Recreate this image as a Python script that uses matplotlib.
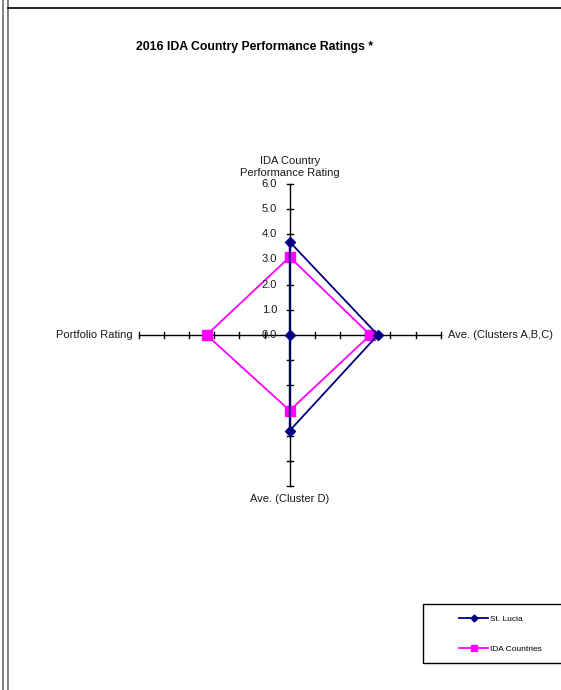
import matplotlib
matplotlib.use("Agg")
import matplotlib.pyplot as plt
from matplotlib.lines import Line2D
from matplotlib.patches import Rectangle
import numpy as np

plt.rcParams['font.family'] = ['Liberation Sans', 'DejaVu Sans']

title = "2016 IDA Country Performance Ratings *"
categories = ["IDA Country\nPerformance Rating", "Ave. (Clusters A,B,C)",
              "Ave. (Cluster D)", "Portfolio Rating"]
series_names = ["St. Lucia", "IDA Countries"]
st_lucia = [3.7, 3.5, 3.8, 0.0]
ida_countries = [3.1, 3.2, 3.0, 3.3]
tick_values = [0, 1, 2, 3, 4, 5, 6]
tick_labels = ["0.0", "1.0", "2.0", "3.0", "4.0", "5.0", "6.0"]

W, H = 561, 690
fig = plt.figure(figsize=(W / 100, H / 100), dpi=100)

# layout: center of radar and pixel scale per unit
cx, cy, S = 289.7, 335.0, 25.17
ax = fig.add_axes([0, 0, 1, 1])
ax.set_xlim(-cx / S, (W - cx) / S)
ax.set_ylim(-(H - cy) / S, cy / S)
ax.axis('off')

dirs = np.array([[0, 1], [1, 0], [0, -1], [-1, 0]], dtype=float)
rmax = tick_values[-1]
tl = 3.2 / S
txtc = '#1a1a1a'

# axes with ticks
for d in dirs:
    ax.plot([0, d[0] * rmax], [0, d[1] * rmax], color='black', lw=1.0, zorder=1)
    perp = np.array([-d[1], d[0]])
    for t in tick_values[1:]:
        p = d * t
        ax.plot([p[0] - perp[0] * tl, p[0] + perp[0] * tl],
                [p[1] - perp[1] * tl, p[1] + perp[1] * tl],
                color='black', lw=1.0, zorder=1)

# tick labels on the first (top) axis
for t, lab in zip(tick_values, tick_labels):
    ax.text(-0.5, t, lab, ha='right', va='center', fontsize=8, color=txtc, zorder=4)

# category labels
ax.text(0, rmax + 0.25, categories[0], ha='center', va='bottom', fontsize=8,
        linespacing=1.2, color=txtc)
ax.text(rmax + 0.3, 0, categories[1], ha='left', va='center', fontsize=8, color=txtc)
ax.text(0, -rmax - 0.3, categories[2], ha='center', va='top', fontsize=8, color=txtc)
ax.text(-rmax - 0.25, 0, categories[3], ha='right', va='center', fontsize=8, color=txtc)


def closed_xy(vals):
    v = np.array(vals + vals[:1])
    d = np.vstack([dirs, dirs[:1]])
    return d[:, 0] * v, d[:, 1] * v


x1, y1 = closed_xy(st_lucia)
x2, y2 = closed_xy(ida_countries)
l1, = ax.plot(x1, y1, color='#000080', lw=1.3, marker='D', ms=5,
              markevery=list(range(4)), zorder=3, label=series_names[0])
l2, = ax.plot(x2, y2, color='#FF00FF', lw=1.3, marker='s', ms=6.5,
              markevery=list(range(4)), zorder=2, label=series_names[1])

# title
fig.text(254.5 / W, 1 - 47 / H, title, ha='center', va='center',
         fontsize=8.8, fontweight='bold')

# frame lines
for px, c in [(2.5, '#808080'), (7.5, '#808080')]:
    fig.add_artist(Line2D([px / W, px / W], [0, 1], color=c, lw=1.4,
                          transform=fig.transFigure))
fig.add_artist(Line2D([8 / W, 1], [1 - 7.5 / H, 1 - 7.5 / H], color='black',
                      lw=1.2, transform=fig.transFigure))

# legend
fig.add_artist(Rectangle((423 / W, 1 - 663 / H), 145 / W, 59 / H,
                         transform=fig.transFigure, fill=False,
                         edgecolor='black', lw=1.0))
h1 = Line2D([], [], color='#000080', lw=1.3, marker='D', ms=3.5)
h2 = Line2D([], [], color='#FF00FF', lw=1.3, marker='s', ms=5)
fig.legend([h1, h2], series_names, loc='center left',
           bbox_to_anchor=(455 / W, 1 - 634 / H), frameon=False,
           fontsize=6, handlelength=3.5, handletextpad=0.25,
           labelspacing=2.6, borderpad=0)

fig.savefig("out.png", dpi=100)
